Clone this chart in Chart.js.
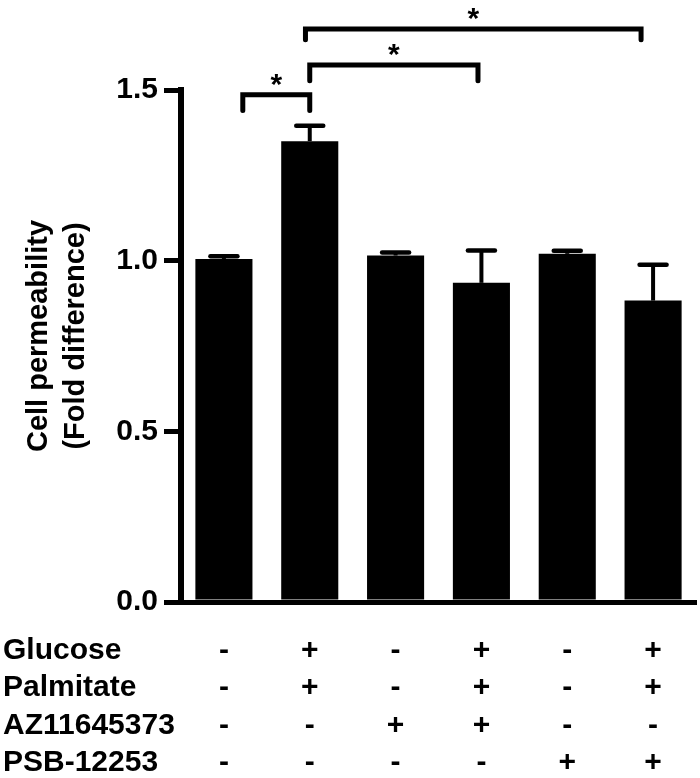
<!DOCTYPE html>
<html>
<head>
<meta charset="utf-8">
<script src="https://cdn.jsdelivr.net/npm/chart.js@4.4.1/dist/chart.umd.min.js"></script>
<style>
  html, body { margin: 0; padding: 0; background: #fff; }
  #c { display: block; }
</style>
</head>
<body>
<canvas id="c" width="700" height="778"></canvas>
<script>
// ---- data ----
const rowNames = ['Glucose', 'Palmitate', 'AZ11645373', 'PSB-12253'];
const glucose    = ['-', '+', '-', '+', '-', '+'];
const palmitate  = ['-', '+', '-', '+', '-', '+'];
const az11645373 = ['-', '-', '+', '+', '-', '-'];
const psb12253   = ['-', '-', '-', '-', '+', '+'];
const means = [1.005, 1.35, 1.015, 0.935, 1.02, 0.883];
const sems  = [0.008, 0.045, 0.009, 0.095, 0.009, 0.105];
const yTicks = [0.0, 0.5, 1.0, 1.5];
const yTitle = ['Cell permeability', '(Fold difference)'];
// significance brackets (category index from/to, level in y units)
const bracketFrom  = [0.22, 1.0, 0.95];
const bracketTo    = [1.0, 2.96, 4.86];
const bracketLevel = [1.486, 1.573, 1.679];
const bracketLeg   = [1.44, 1.527, 1.647];
const bracketMark  = ['*', '*', '*'];

const categories = glucose.map((g, i) => [g, palmitate[i], az11645373[i], psb12253[i]]);

const FONT = '"Liberation Sans", Arial, Helvetica, sans-serif';
const FS = 30;
const LINE_H = 1.245;
const TICK_PAD = 30;

const extras = {
  id: 'extras',
  afterDatasetsDraw(chart) {
    const ctx = chart.ctx;
    const x = chart.scales.x, y = chart.scales.y;
    const meta = chart.getDatasetMeta(0);
    ctx.save();
    ctx.strokeStyle = '#000';
    ctx.fillStyle = '#000';
    // error bars (upper only)
    meta.data.forEach((bar, i) => {
      const yb = y.getPixelForValue(means[i]);
      const yt = y.getPixelForValue(means[i] + sems[i]);
      ctx.lineCap = 'butt';
      ctx.lineWidth = 4;
      ctx.beginPath();
      ctx.moveTo(bar.x, yb);
      ctx.lineTo(bar.x, yt);
      ctx.stroke();
      ctx.lineCap = 'round';
      ctx.lineWidth = 4.5;
      ctx.beginPath();
      ctx.moveTo(bar.x - 13.5, yt);
      ctx.lineTo(bar.x + 13.5, yt);
      ctx.stroke();
    });
    // brackets
    bracketFrom.forEach((f, i) => {
      const x1 = x.getPixelForValue(f);
      const x2 = x.getPixelForValue(bracketTo[i]);
      const yl = y.getPixelForValue(bracketLevel[i]);
      const yg = y.getPixelForValue(bracketLeg[i]);
      ctx.lineWidth = 5;
      ctx.lineCap = 'round';
      ctx.lineJoin = 'miter';
      ctx.beginPath();
      ctx.moveTo(x1, yg);
      ctx.lineTo(x1, yl);
      ctx.lineTo(x2, yl);
      ctx.lineTo(x2, yg);
      ctx.stroke();
      ctx.font = '700 30px ' + FONT;
      ctx.textAlign = 'center';
      ctx.textBaseline = 'alphabetic';
      ctx.fillText(bracketMark[i], (x1 + x2) / 2, yl - 1);
    });
    ctx.restore();
  },
  afterDraw(chart) {
    const ctx = chart.ctx;
    const x = chart.scales.x;
    const area = chart.chartArea;
    ctx.save();
    ctx.fillStyle = '#000';
    // row names
    ctx.font = '700 ' + FS + 'px ' + FONT;
    ctx.textAlign = 'left';
    ctx.textBaseline = 'middle';
    const lh = FS * LINE_H;
    rowNames.forEach((n, i) => {
      ctx.fillText(n, 3, x.top + TICK_PAD + lh * (i + 0.5));
    });
    // y title
    ctx.font = '700 29px ' + FONT;
    ctx.textAlign = 'center';
    ctx.textBaseline = 'middle';
    const cy = area.top + 246;
    [39, 76].forEach((cx, i) => {
      ctx.save();
      ctx.translate(cx, cy);
      ctx.rotate(-Math.PI / 2);
      ctx.fillText(yTitle[i], 0, 0);
      ctx.restore();
    });
    ctx.restore();
  }
};

new Chart(document.getElementById('c'), {
  type: 'bar',
  data: {
    labels: categories,
    datasets: [{
      data: means,
      backgroundColor: '#000',
      borderWidth: 0,
      barPercentage: 0.665,
      categoryPercentage: 1.0
    }]
  },
  options: {
    responsive: false,
    maintainAspectRatio: false,
    devicePixelRatio: 1,
    animation: false,
    events: [],
    layout: { padding: { top: 90, right: 4, bottom: 0, left: 0 } },
    plugins: {
      legend: { display: false },
      tooltip: { enabled: false },
      title: { display: false }
    },
    scales: {
      x: {
        offset: true,
        grid: { display: false, drawTicks: false, tickLength: 0 },
        border: { display: true, color: '#000', width: 5 },
        ticks: {
          color: '#000',
          font: { family: FONT, size: FS, weight: '700', lineHeight: LINE_H },
          padding: TICK_PAD,
          autoSkip: false,
          maxRotation: 0,
          minRotation: 0
        },
        afterFit(s) { s.height = 176; }
      },
      y: {
        min: 0,
        max: 1.5,
        afterBuildTicks(s) { s.ticks = yTicks.map(v => ({ value: v })); },
        grid: {
          display: true,
          drawOnChartArea: false,
          drawTicks: true,
          tickLength: 17,
          lineWidth: 5,
          color: '#000'
        },
        border: { display: true, color: '#000', width: 6 },
        ticks: {
          color: '#000',
          font: { family: FONT, size: FS, weight: '700' },
          padding: 6,
          callback: v => Number(v).toFixed(1)
        },
        afterFit(s) { s.width = 181; }
      }
    }
  },
  plugins: [extras]
});
</script>
</body>
</html>
